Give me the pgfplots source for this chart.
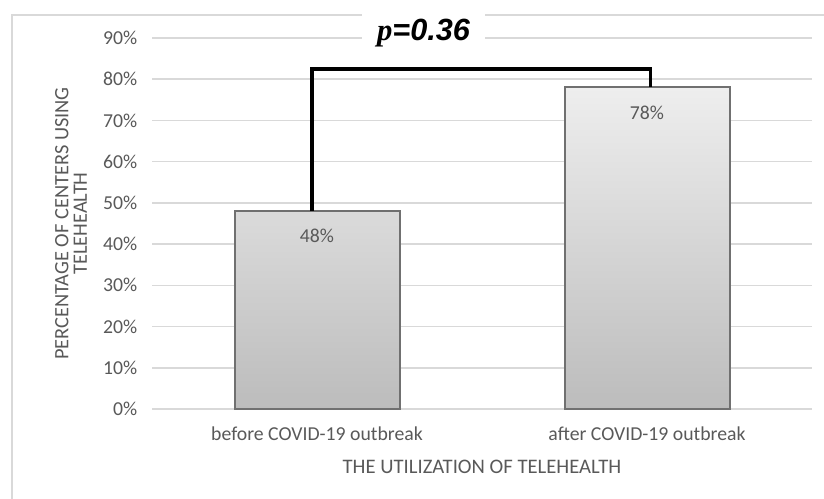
\documentclass[border=0pt]{standalone}
\usepackage{pgfplots}
\pgfplotsset{compat=1.18}
\usepackage{fontspec}
\setmainfont{Carlito}
\newfontfamily\pfont{Liberation Sans}
\newfontfamily\pserif{Liberation Serif}
\definecolor{txt}{HTML}{595959}
\definecolor{gridc}{HTML}{D9D9D9}
\definecolor{barline}{HTML}{707070}
\definecolor{bartop}{HTML}{EEEEEE}
\definecolor{barbot}{HTML}{BCBCBC}
\begin{document}
\begin{tikzpicture}
\useasboundingbox (0pt,0pt) rectangle (618pt,374.25pt);
\draw[gridc, line width=1.2pt] (9pt,-5pt) -- (9pt,363pt) -- (625pt,363pt);
\begin{axis}[
  at={(114pt,67.5pt)}, anchor=south west, scale only axis,
  width=495pt, height=278.25pt,
  xmin=-0.5, xmax=1.5, ymin=0, ymax=90,
  clip=false,
  xtick={0,1},
  xticklabels={before COVID-19 outbreak, after COVID-19 outbreak},
  ytick={0,10,...,90},
  yticklabel={\pgfmathprintnumber{\tick}\%},
  ymajorgrids,
  grid style={gridc, line width=1.2pt},
  axis line style={draw=none},
  major tick length=0pt,
  /pgf/number format/assume math mode=true,
  ticklabel style={font=\fontsize{14.8}{17}\selectfont, text=txt},
  yticklabel style={xshift=-7.5pt},
  xticklabel style={yshift=-9.5pt},
  xlabel={THE UTILIZATION OF TELEHEALTH},
  ylabel={PERCENTAGE OF CENTERS USING\\TELEHEALTH},
  every axis x label/.style={at={(axis description cs:0.5,-0.1563)}, anchor=center, font=\fontsize{15.5}{17}\selectfont, text=txt},
  every axis y label/.style={at={(axis description cs:-0.1227,0.5)}, anchor=center, rotate=90, align=center, font=\fontsize{15.3}{14}\selectfont, text=txt},
  nodes near coords={\pgfmathprintnumber{\pgfplotspointmeta}\%},
  every node near coord/.append style={anchor=center, yshift=-18.75pt, font=\fontsize{14.8}{17}\selectfont, text=txt},
]
\addplot[ybar, bar width=123.75pt, draw=barline, line width=1.5pt, top color=bartop, bottom color=barbot]
  coordinates {(0,48) (1,78)};
\draw[black, line width=2.6pt] (axis cs:-0.015,48) -- (axis cs:-0.015,82.5) -- (axis cs:1.01,82.5) -- (axis cs:1.01,78);
\node[fill=white, minimum width=92.25pt, minimum height=30pt, inner sep=0pt] at (axis cs:0.3227,91.2)
  {\fontsize{23}{23}\selectfont\bfseries\itshape{\pserif p}{\pfont =0.36}};
\end{axis}
\end{tikzpicture}
\end{document}
